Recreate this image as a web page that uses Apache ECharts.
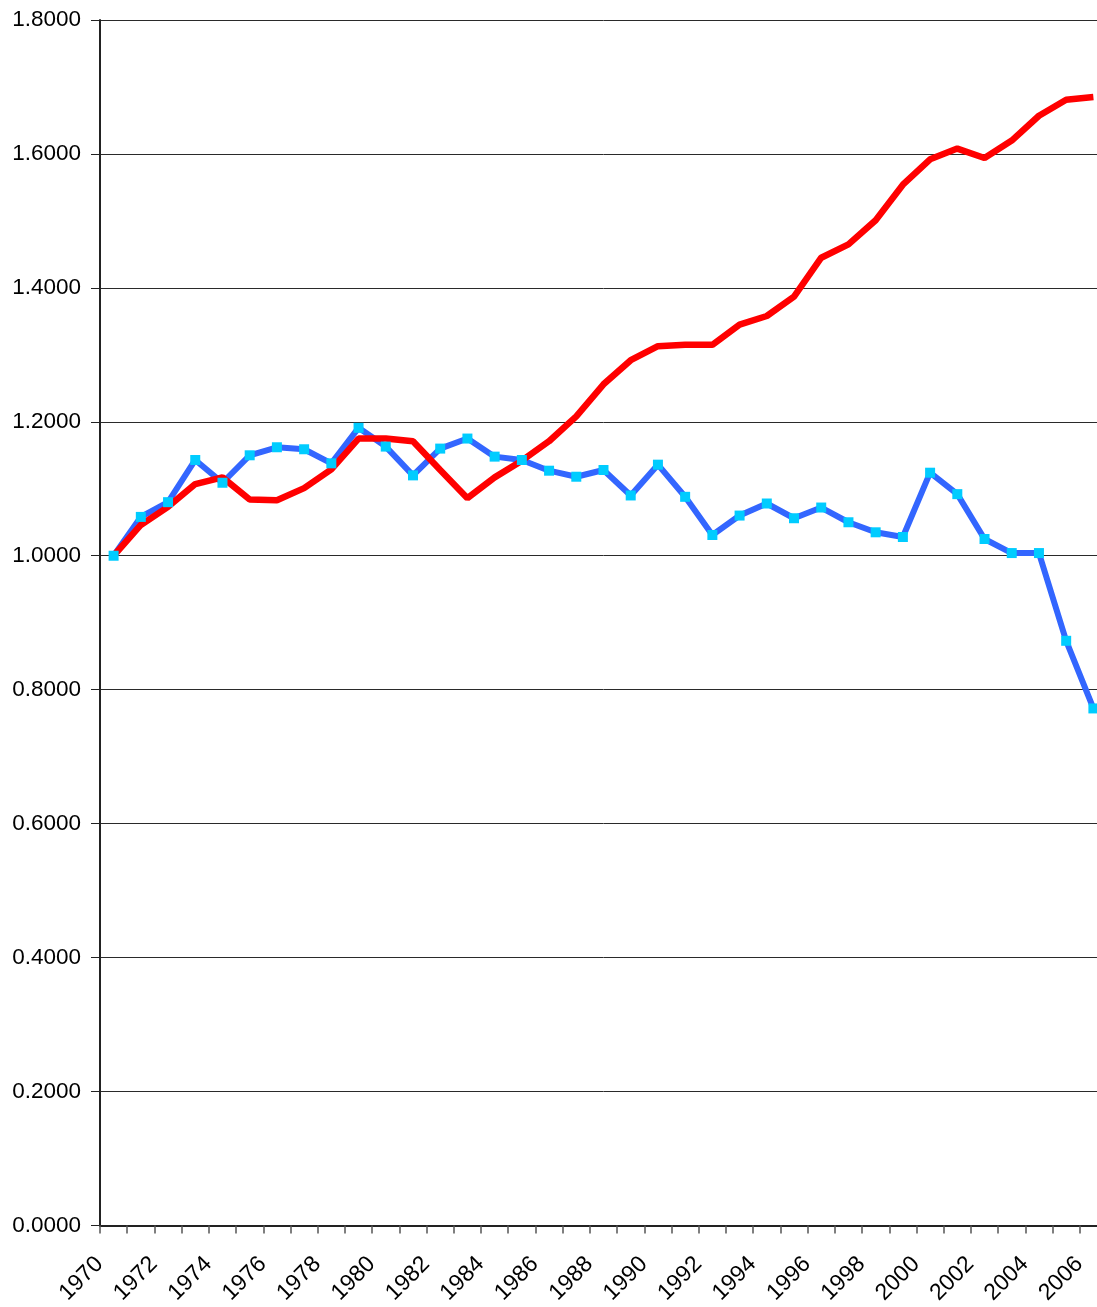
<!DOCTYPE html>
<html>
<head>
<meta charset="utf-8">
<script src="https://cdn.jsdelivr.net/npm/echarts@6/dist/echarts.min.js"></script>
<style>
html,body{margin:0;padding:0;background:#fff;overflow:hidden;}
#wrap{width:1097px;height:1307px;overflow:hidden;position:relative;}
#chart{width:1107px;height:1307px;position:absolute;left:0;top:0;}
</style>
</head>
<body>
<div id="wrap"><div id="chart"></div></div>
<script>
var years = ['1970','1971','1972','1973','1974','1975','1976','1977','1978','1979',
  '1980','1981','1982','1983','1984','1985','1986','1987','1988','1989',
  '1990','1991','1992','1993','1994','1995','1996','1997','1998','1999',
  '2000','2001','2002','2003','2004','2005','2006'];

var redSeries = [1.000,1.046,1.073,1.107,1.117,1.084,1.083,1.101,1.129,1.175,
  1.175,1.171,1.128,1.086,1.117,1.142,1.171,1.208,1.256,1.292,
  1.313,1.315,1.315,1.345,1.358,1.387,1.445,1.465,1.501,1.554,
  1.592,1.608,1.594,1.620,1.657,1.681,1.685];

var blueSeries = [1.000,1.058,1.080,1.143,1.109,1.150,1.162,1.159,1.138,1.191,
  1.163,1.120,1.160,1.175,1.148,1.143,1.127,1.118,1.128,1.090,
  1.136,1.088,1.031,1.060,1.078,1.056,1.072,1.050,1.035,1.028,
  1.124,1.092,1.025,1.004,1.004,0.873,0.772];

var yMin = 0, yMax = 1.8, yStep = 0.2;

var chart = echarts.init(document.getElementById('chart'));
var font = 'Liberation Sans, Arial, sans-serif';
chart.setOption({
  animation: false,
  backgroundColor: '#ffffff',
  grid: {left: 100, top: 20, right: 0, bottom: 81, containLabel: false},
  xAxis: {
    type: 'category',
    data: years,
    boundaryGap: true,
    axisLine: {show: true, lineStyle: {color: '#222', width: 2}},
    axisTick: {show: true, length: 8, interval: 0, lineStyle: {color: '#555', width: 1.5}},
    axisLabel: {
      interval: 1, rotate: 45, margin: 21, padding: [0, 20, 0, 0],
      color: '#000', fontFamily: font, fontSize: 23
    },
    splitLine: {show: false}
  },
  yAxis: {
    type: 'value',
    min: yMin, max: yMax, interval: yStep,
    axisLine: {show: true, lineStyle: {color: '#222', width: 2}},
    axisTick: {show: true, length: 9, lineStyle: {color: '#222', width: 1}},
    axisLabel: {
      margin: 19, color: '#000', fontFamily: font, fontSize: 22.5,
      formatter: function (v) { return v.toFixed(4); }
    },
    splitLine: {show: true, lineStyle: {color: '#2a2a2a', width: 1}}
  },
  series: [
    {
      type: 'line', data: blueSeries, showSymbol: false, symbol: 'none',
      lineStyle: {color: '#3366FF', width: 6}, z: 2
    },
    {
      type: 'line', data: redSeries, showSymbol: false, symbol: 'none',
      lineStyle: {color: '#FF0000', width: 6.5}, z: 3
    },
    {
      type: 'line', data: blueSeries, symbol: 'rect', symbolSize: 10, showSymbol: true,
      lineStyle: {width: 0, opacity: 0},
      itemStyle: {color: '#00CCFF', borderWidth: 0}, z: 4
    }
  ]
});
</script>
</body>
</html>
